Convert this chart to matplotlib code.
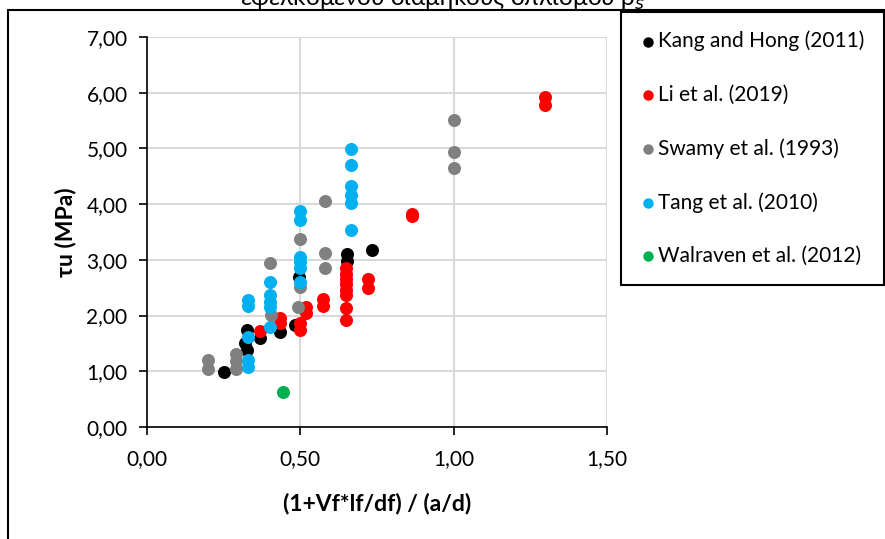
import numpy as np
import matplotlib
matplotlib.use("Agg")
import matplotlib.pyplot as plt
from matplotlib.patches import Rectangle
from matplotlib.ticker import FuncFormatter

plt.rcParams['font.family'] = ['Lato', 'Open Sans', 'DejaVu Sans']

# Kang and Hong (2011)
kang_x = [0.25, 0.325, 0.32, 0.325, 0.368, 0.434, 0.483, 0.497, 0.653, 0.653, 0.733]
kang_y = [0.98, 1.74, 1.50, 1.38, 1.60, 1.71, 1.83, 2.70, 3.11, 2.98, 3.17]

# Li et al. (2019)
li_x = [0.368, 0.434, 0.434, 0.50, 0.50, 0.52, 0.52, 0.573, 0.573,
        0.648, 0.648, 0.648, 0.648, 0.648, 0.648, 0.648, 0.648,
        0.72, 0.72, 0.865, 0.865, 1.298, 1.298]
li_y = [1.73, 1.95, 1.86, 1.86, 1.74, 2.16, 2.04, 2.29, 2.18,
        2.85, 2.75, 2.65, 2.56, 2.46, 2.37, 2.13, 1.92,
        2.65, 2.49, 3.82, 3.78, 5.93, 5.78]

# Swamy et al. (1993)
swamy_x = [0.20, 0.20, 0.29, 0.29, 0.29, 0.40, 0.405, 0.50, 0.50, 0.493,
           0.58, 0.58, 0.58, 1.0, 1.0, 1.0]
swamy_y = [1.20, 1.05, 1.31, 1.18, 1.04, 2.94, 2.01, 3.37, 2.52, 2.16,
           4.05, 3.13, 2.85, 5.51, 4.93, 4.65]

# Tang et al. (2010)
tang_x = [0.33, 0.33, 0.33, 0.33, 0.33, 0.40, 0.40, 0.40, 0.40, 0.40,
          0.50, 0.50, 0.50, 0.50, 0.50, 0.50,
          0.665, 0.665, 0.665, 0.665, 0.665, 0.665]
tang_y = [2.28, 2.17, 1.62, 1.20, 1.08, 2.61, 2.37, 2.25, 2.16, 1.80,
          3.87, 3.71, 3.06, 2.96, 2.85, 2.60,
          4.99, 4.71, 4.33, 4.16, 4.02, 3.54]

# Walraven et al. (2012)
walraven_x = [0.445]
walraven_y = [0.62]

series = [
    ("Kang and Hong (2011)", kang_x, kang_y, "#000000"),
    ("Li et al. (2019)", li_x, li_y, "#FF0000"),
    ("Swamy et al. (1993)", swamy_x, swamy_y, "#808080"),
    ("Tang et al. (2010)", tang_x, tang_y, "#00B0F0"),
    ("Walraven et al. (2012)", walraven_x, walraven_y, "#00B050"),
]

W, H = 885, 539
fig = plt.figure(figsize=(W / 100, H / 100), dpi=100)
ax = fig.add_axes([147 / W, 1 - 427 / H, (607 - 147) / W, (427 - 37) / H])

for name, xs, ys, col in series:
    ax.scatter(xs, ys, s=88, color=col, label=name, linewidths=0, zorder=3)

ax.set_xlim(0, 1.5)
ax.set_ylim(0, 7)
ax.set_xticks(np.arange(0, 1.51, 0.5))
ax.set_yticks(np.arange(0, 7.01, 1))
fmt = FuncFormatter(lambda v, p: f"{v:.2f}".replace(".", ","))
ax.xaxis.set_major_formatter(fmt)
ax.yaxis.set_major_formatter(fmt)
ax.tick_params(direction='out', length=6, width=1.2, labelsize=15, color='black')
ax.tick_params(axis='x', pad=10)
ax.tick_params(axis='y', pad=8)
ax.grid(True, color='#d9d9d9', linewidth=1.5, zorder=0)
ax.set_axisbelow(True)
for s in ['top', 'right']:
    ax.spines[s].set_visible(False)
for s in ['left', 'bottom']:
    ax.spines[s].set_linewidth(1.2)

ax.set_xlabel("(1+Vf*lf/df) / (a/d)", fontsize=16.5, fontweight='bold', labelpad=17)
ax.set_ylabel("τu (MPa)", fontsize=16.5, fontweight='bold', labelpad=7)

leg = ax.legend(loc='upper left', bbox_to_anchor=(621 / W, 1 - 12 / H),
                bbox_transform=fig.transFigure, fontsize=15, frameon=True,
                fancybox=False, edgecolor='black', framealpha=1,
                labelspacing=1.6, handletextpad=0.1, borderpad=0.9,
                borderaxespad=0, handlelength=0.8, scatterpoints=1,
                markerscale=0.8)
leg.get_frame().set_linewidth(1.5)

# outer chart border (partially cropped)
fig.patches.append(Rectangle((8 / W, -0.2), 1.2, 1.2 - 10 / H,
                             transform=fig.transFigure, fill=False,
                             edgecolor='black', linewidth=1.5, zorder=0))

# title, cut off at top of image
fig.text(442 / W, 1 - 6 / H, "εφελκόμενου διαμήκους οπλισμού ρ$_s$",
         ha='center', va='baseline', fontsize=17.5)

fig.savefig("out.png", dpi=100)
